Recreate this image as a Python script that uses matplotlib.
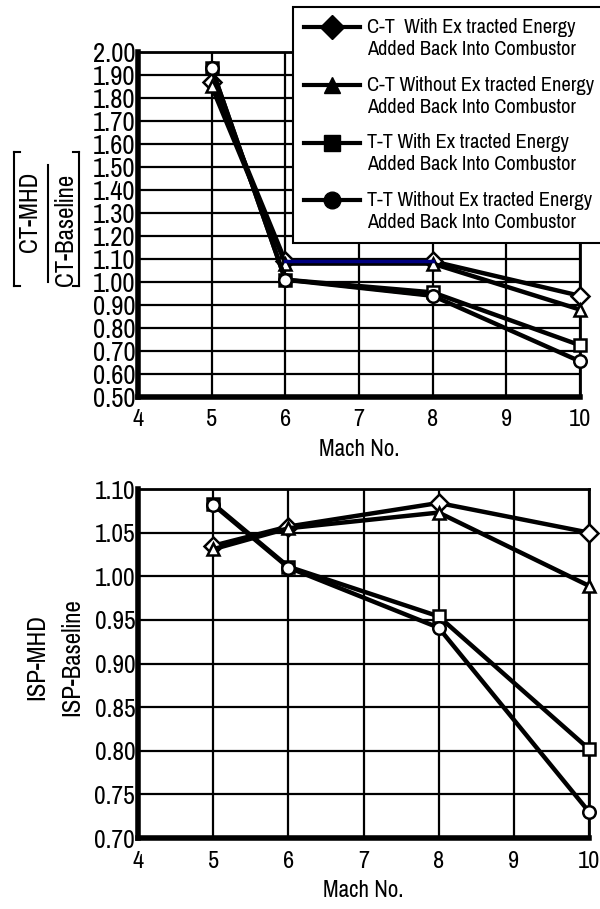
import matplotlib
matplotlib.use("Agg")
import numpy as np
import matplotlib.pyplot as plt
from matplotlib.lines import Line2D
from matplotlib.legend_handler import HandlerLine2D

plt.rcParams['font.family'] = ['Pragati Narrow', 'Archivo Narrow', 'Liberation Sans', 'DejaVu Sans']

mach = [5, 6, 8, 10]
series_labels = [
    "C-T  With Ex tracted Energy\nAdded Back Into Combustor",
    "C-T Without Ex tracted Energy\nAdded Back Into Combustor",
    "T-T With Ex tracted Energy\nAdded Back Into Combustor",
    "T-T Without Ex tracted Energy\nAdded Back Into Combustor",
]
markers = ['D', '^', 's', 'o']

# Top: CT-MHD / CT-Baseline
ct_ct_with = [1.87, 1.09, 1.09, 0.94]
ct_ct_without = [1.85, 1.08, 1.08, 0.88]
ct_tt_with = [1.93, 1.01, 0.955, 0.725]
ct_tt_without = [1.93, 1.01, 0.94, 0.655]
top_series = [ct_ct_with, ct_ct_without, ct_tt_with, ct_tt_without]

# Bottom: ISP-MHD / ISP-Baseline
isp_ct_with = [1.035, 1.057, 1.084, 1.050]
isp_ct_without = [1.031, 1.055, 1.073, 0.989]
isp_tt_with = [1.083, 1.011, 0.954, 0.802]
isp_tt_without = [1.082, 1.010, 0.941, 0.730]
bot_series = [isp_ct_with, isp_ct_without, isp_tt_with, isp_tt_without]

top_yticks = [0.50, 0.60, 0.70, 0.80, 0.90, 1.00, 1.10, 1.20, 1.30, 1.40,
              1.50, 1.60, 1.70, 1.80, 1.90, 2.00]
bot_yticks = [0.70, 0.75, 0.80, 0.85, 0.90, 0.95, 1.00, 1.05, 1.10]
xticks = [4, 5, 6, 7, 8, 9, 10]

W, H = 600, 909
fig = plt.figure(figsize=(W / 100, H / 100), dpi=100)

def fx(px):
    return px / W

def fy(py):
    return 1 - py / H

def style_axes(ax, yticks, ysize):
    ax.set_xlim(4, 10)
    ax.set_ylim(yticks[0], yticks[-1])
    ax.set_xticks(xticks)
    ax.set_yticks(yticks)
    ax.set_yticklabels([f"{v:.2f}" for v in yticks], fontsize=ysize)
    ax.set_xticklabels([str(v) for v in xticks], fontsize=19)
    ax.tick_params(axis='both', length=0)
    ax.tick_params(axis='y', pad=2)
    ax.tick_params(axis='x', pad=9)
    ax.grid(True, color='black', linewidth=1.6)
    ax.set_axisbelow(True)
    for s in ['left', 'bottom']:
        ax.spines[s].set_linewidth(4)
    for s in ['top', 'right']:
        ax.spines[s].set_linewidth(2)
    ax.set_xlabel("Mach No.", fontsize=18, labelpad=6)

def draw(ax, series):
    for i, (ys, m) in enumerate(zip(series, markers)):
        ax.plot(mach, ys, color='black', linewidth=3.2, marker=m, markersize=9,
                markerfacecolor='white', markeredgecolor='black',
                markeredgewidth=1.8, zorder=3 + i, clip_on=False)

ax1 = fig.add_axes([fx(138), fy(397), fx(580 - 138), (397 - 52) / H])
style_axes(ax1, top_yticks, 21)
draw(ax1, top_series)
# coloured artefact segments seen in the original
ax1.plot(mach[1:3], ct_ct_with[1:3], color='#000080', linewidth=2.5, zorder=8)
ax1.plot(mach[1:3], [v - 0.004 for v in ct_tt_without[1:3]], color='#006400',
         linewidth=1, zorder=2.5)

ax2 = fig.add_axes([fx(138), fy(838), fx(589 - 138), (838 - 489) / H])
style_axes(ax2, bot_yticks, 20)
draw(ax2, bot_series)

# Top y label: bracketed fraction
fig.text(fx(30), fy(212), "CT-MHD", rotation=90, ha='center', va='center', fontsize=19.5)
fig.text(fx(66), fy(230), "CT-Baseline", rotation=90, ha='center', va='center', fontsize=19.5)
fig.add_artist(Line2D([fx(48), fx(48)], [fy(165), fy(282)], color='black', lw=1.5))
for xb, d in [(14, 1), (79, -1)]:
    fig.add_artist(Line2D([fx(xb), fx(xb)], [fy(152), fy(286)], color='black', lw=1.5))
    for yb in (152, 286):
        fig.add_artist(Line2D([fx(xb), fx(xb + d * 6)], [fy(yb), fy(yb)], color='black', lw=1.5))

# Bottom y label
fig.text(fx(37), fy(657), "ISP-MHD", rotation=90, ha='center', va='center', fontsize=19.5)
fig.text(fx(72), fy(657), "ISP-Baseline", rotation=90, ha='center', va='center', fontsize=19.5)


class HandlerFirstLine(HandlerLine2D):
    """Place the legend handle level with the first text line."""
    def create_artists(self, legend, orig_handle, xdescent, ydescent,
                       width, height, fontsize, trans):
        arts = super().create_artists(legend, orig_handle, xdescent, ydescent,
                                      width, height, fontsize, trans)
        for a in arts:
            a.set_ydata(np.asarray(a.get_ydata()) + 0.5 * fontsize)
        return arts


handles = [Line2D([], [], color='black', linewidth=3, marker=m, markersize=12,
                  markerfacecolor='black', markeredgecolor='black')
           for m in markers]
leg = fig.legend(handles, series_labels, loc='upper left',
                 bbox_to_anchor=(fx(293), fy(7)), fontsize=16, frameon=True,
                 fancybox=False, framealpha=1, edgecolor='black',
                 handlelength=2.5, handletextpad=0.35, labelspacing=0.75,
                 borderpad=0.5, borderaxespad=0,
                 handler_map={Line2D: HandlerFirstLine()})
leg.get_frame().set_linewidth(1.5)
leg.set_zorder(20)

fig.savefig("out.png", dpi=100)
